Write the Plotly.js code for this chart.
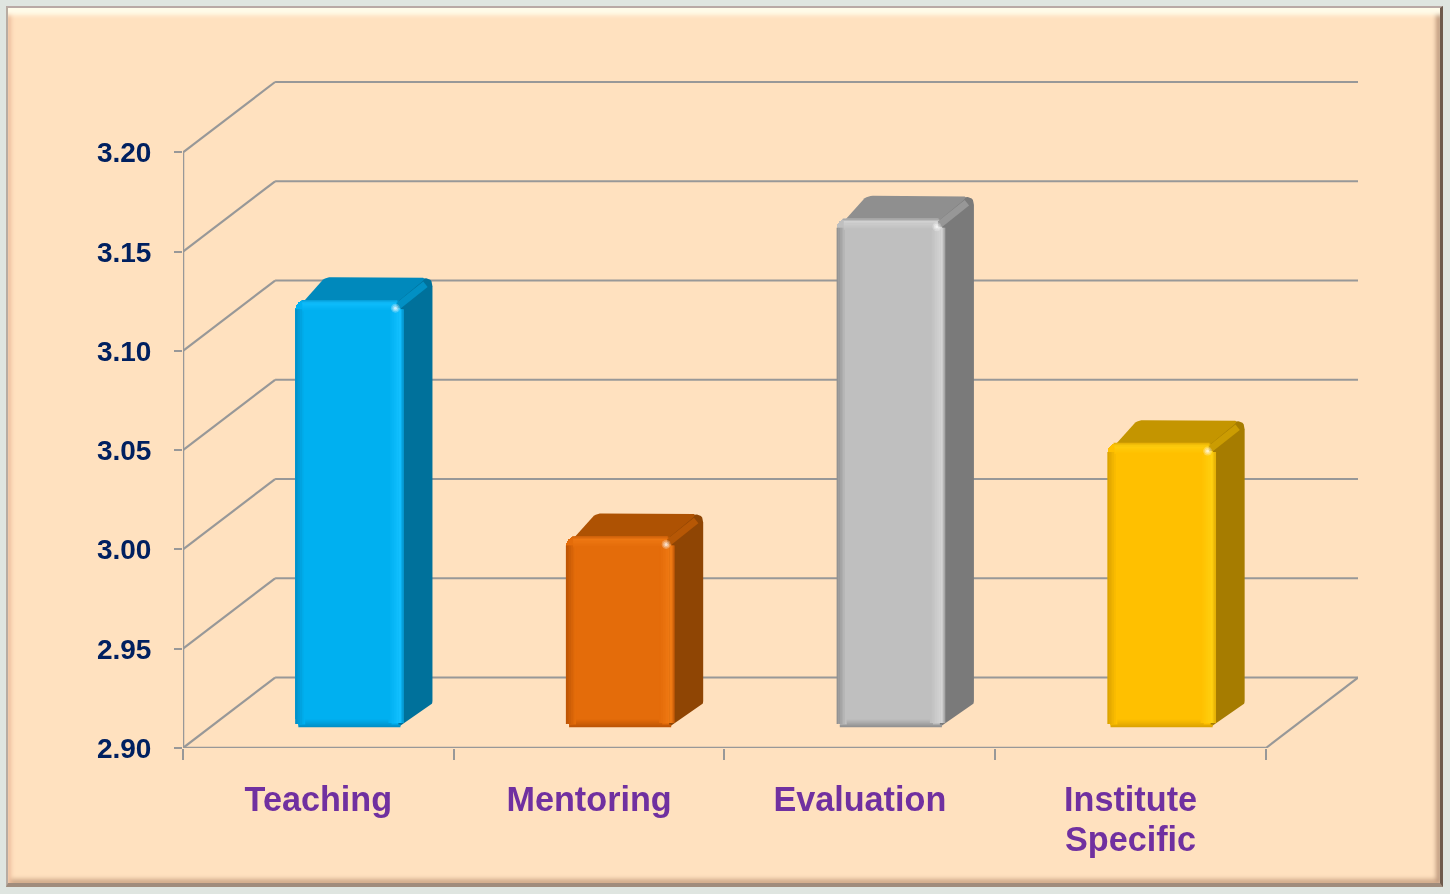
<!DOCTYPE html>
<html>
<head>
<meta charset="utf-8">
<script src="https://cdn.plot.ly/plotly-3.0.1.min.js"></script>
<style>
html,body{margin:0;padding:0;width:1450px;height:894px;overflow:hidden;background:#dfe5e0;}
#panel{position:absolute;left:6px;top:6px;width:1437px;height:881px;background:#FFE1BF;
 border-top:2px solid #b9a9a5;border-left:2px solid #b8aca2;border-right:3px solid #6e5a4c;border-bottom:4px solid #a08c7c;box-sizing:border-box;
 box-shadow:inset 0 9px 4px -2px #fffbe9, inset 4px 0 4px -1px #eebf9e, inset -5px 0 4px -1px #c09c80, inset 0 -5px 4px -1px #d0ac8c;}
#chart{position:absolute;left:0;top:0;width:1450px;height:894px;filter:blur(0.45px);}
</style>
</head>
<body>
<div id="panel"></div>
<div id="chart"></div>
<script>
// Data
var categories = ['Teaching', 'Mentoring', 'Evaluation', 'Institute'];
var secondLine = ['', '', '', 'Specific'];
var values = [3.115, 2.996, 3.156, 3.043];
var frontColors = ['#00B0F0', '#E46C0A', '#BFBFBF', '#FFC000'];
var sideColors = ['#00719B', '#8F4504', '#7A7A7A', '#A67C00'];
var topColors = ['#0089BC', '#AE5203', '#8F8F8F', '#C49500'];
var lightColors = ['#12C0FF', '#F07A14', '#D4D4D4', '#FFD010'];
var darkColors = ['#0090C8', '#BE5505', '#929292', '#DDA400'];
var yTicks = [2.90, 2.95, 3.00, 3.05, 3.10, 3.15, 3.20];
var yTickText = ['2.90', '2.95', '3.00', '3.05', '3.10', '3.15', '3.20'];

// Pseudo-3D geometry in axis units
var pxX = 270.5, pxY = 1987;
var yMin = 2.90, wallDx = 92 / pxX, wallDy = 70.5 / pxY;
var floorDy = 21 / pxY, barDx = 29 / pxX, barDy = 23 / pxY;
var barW = 108 / pxX, barShift = 31 / pxX;
var gridColor = '#989898';
var traces = [];

function mix(a, b, t) {
  var out = '#';
  for (var i = 1; i < 7; i += 2) {
    var c = Math.round(parseInt(a.substr(i, 2), 16) * (1 - t) + parseInt(b.substr(i, 2), 16) * t);
    out += (c < 16 ? '0' : '') + c.toString(16);
  }
  return out;
}
function line(xs, ys, color, width, ax) {
  return {type: 'scatter', mode: 'lines', x: xs, y: ys, xaxis: ax ? 'x2' : 'x', yaxis: ax ? 'y2' : 'y',
    line: {color: color, width: width, simplify: false}, hoverinfo: 'skip', showlegend: false, cliponaxis: false};
}
// polygon with rounded corners; radii are given per corner in pixels
function rounded(pts, radii) {
  var xs = [], ys = [], n = pts.length;
  for (var i = 0; i < n; i++) {
    var p = pts[i], a = pts[(i + n - 1) % n], b = pts[(i + 1) % n], r = radii[i];
    if (!r) { xs.push(p[0]); ys.push(p[1]); continue; }
    var ax = (a[0] - p[0]) * pxX, ay = (a[1] - p[1]) * pxY, bx = (b[0] - p[0]) * pxX, by = (b[1] - p[1]) * pxY;
    var la = Math.hypot(ax, ay), lb = Math.hypot(bx, by);
    for (var k = 0; k <= 6; k++) {
      var t = k / 6, u = 1 - t;
      var sx = u * u * (ax / la * r) + t * t * (bx / lb * r);
      var sy = u * u * (ay / la * r) + t * t * (by / lb * r);
      xs.push(p[0] + sx / pxX); ys.push(p[1] + sy / pxY);
    }
  }
  xs.push(xs[0]); ys.push(ys[0]);
  return {x: xs, y: ys};
}
function face(poly, color) {
  return {type: 'scatter', mode: 'lines', x: poly.x, y: poly.y, fill: 'toself', fillcolor: color,
    line: {width: 0, color: color}, xaxis: 'x2', yaxis: 'y2', hoverinfo: 'skip', showlegend: false};
}

// Walls and floor
yTicks.forEach(function (t) {
  traces.push(line([wallDx, 4 + wallDx], [t + wallDy, t + wallDy], gridColor, 2));
  traces.push(line([0, wallDx], [t, t + wallDy], gridColor, 2.2));
});
traces.push(line([0, 0], [yMin, yTicks[yTicks.length - 1]], gridColor, 2.5));
traces.push(line([0, 4], [yMin, yMin], gridColor, 2.5));
traces.push(line([4, 4 + wallDx], [yMin, yMin + wallDy], gridColor, 2.2));

// Bars: front faces through the library's bar trace
var barX = categories.map(function (c, i) { return i + 0.5 + barShift; });
var base = yMin + floorDy;
traces.push({type: 'bar', x: barX, y: values.map(function (v) { return v - yMin; }),
  base: values.map(function () { return base; }), width: barW, xaxis: 'x2', yaxis: 'y2',
  marker: {color: frontColors, cornerradius: 9, line: {width: 0}}, hoverinfo: 'skip', showlegend: false});

values.forEach(function (v0, i) {
  var v = v0 + floorDy, x0 = barX[i] - barW / 2, x1 = barX[i] + barW / 2;
  var e = 5 / pxX, ey = 5 / pxY, px = 1 / pxX, py = 1 / pxY, k, t;
  // side face
  traces.push(face(rounded([[x1 - e, base], [x1 + barDx, base + barDy], [x1 + barDx, v + barDy], [x1 - e, v + barDy - ey]], [0, 3, 9, 0]), sideColors[i]));
  // top face
  traces.push(face(rounded([[x0 + e, v - ey], [x0 + barDx, v + barDy], [x1 + barDx - e, v + barDy], [x1 - 2 * e, v - ey]], [7, 7, 8, 0]), topColors[i]));
  // band that wraps the corner between top and side
  traces.push(line([x1 - 1.5 * e, x1 + barDx - 1.4 * e], [v - 1.5 * ey, v + barDy - 1.4 * ey], mix(topColors[i], lightColors[i], 0.12), 7, true));
  // soft bevels of the front face, drawn as graded strips
  for (k = 0; k < 6; k++) { // left edge
    t = k / 5;
    traces.push(line([x0 + (k * 1.7 + 0.8) * px, x0 + (k * 1.7 + 0.8) * px], [base + 3 * py, v - 9 * py], mix(darkColors[i], frontColors[i], t), 2, true));
  }
  for (k = 0; k < 8; k++) { // bottom edge
    t = k / 7;
    traces.push(line([x0 + (k < 2 ? 3 : 10) * px, x1 - (k < 2 ? 3 : 12) * px], [base + (k * 1.1 + 0.6) * py, base + (k * 1.1 + 0.6) * py], mix(darkColors[i], frontColors[i], t), 1.6, true));
  }
  for (k = 0; k < 7; k++) { // right edge rising to the highlight
    t = k / 6;
    traces.push(line([x1 - (14 - k * 1.7) * px, x1 - (14 - k * 1.7) * px], [base + 4 * py, v - 8 * py], mix(frontColors[i], lightColors[i], t), 2, true));
  }
  for (k = 0; k < 3; k++) {
    traces.push(line([x1 - (2.6 - k * 1.1) * px, x1 - (2.6 - k * 1.1) * px], [base + 4 * py, v - 9 * py], mix(lightColors[i], darkColors[i], k / 3), 1.6, true));
  }
  for (k = 0; k < 7; k++) { // top edge
    t = k / 6;
    traces.push(line([x0 + 7 * px, x1 - 7 * px], [v - (10 - k * 1.5) * py, v - (10 - k * 1.5) * py], mix(frontColors[i], lightColors[i], t), 2, true));
  }
  for (k = 0; k < 2; k++) {
    traces.push(line([x0 + 6 * px, x1 - 6 * px], [v - (1.6 - k * 1.2) * py, v - (1.6 - k * 1.2) * py], mix(lightColors[i], darkColors[i], 0.35 + 0.3 * k), 1.4, true));
  }
  // specular spot at the corner
  [[9, 0.25], [6, 0.35], [3, 0.55]].forEach(function (s) {
    traces.push({type: 'scatter', mode: 'markers', x: [x1 - 8 * px], y: [v - 8 * py], xaxis: 'x2', yaxis: 'y2',
      marker: {size: s[0], color: 'rgba(255,255,255,' + s[1] + ')', line: {width: 0}}, hoverinfo: 'skip', showlegend: false});
  });
});

var xMax = 4 + wallDx, yMax = yTicks[yTicks.length - 1] + wallDy + 4 / pxY;
var fontFamily = '"Liberation Sans", Arial, sans-serif';
var layout = {
  width: 1450, height: 894,
  margin: {l: 183, r: 92, t: 77.5, b: 146, pad: 0},
  paper_bgcolor: 'rgba(0,0,0,0)', plot_bgcolor: 'rgba(0,0,0,0)',
  showlegend: false, bargap: 0,
  xaxis: {range: [0, xMax], tickvals: [0, 1, 2, 3, 4], ticktext: ['', '', '', '', ''], ticks: 'outside', ticklen: 11, tickwidth: 2,
    tickcolor: gridColor, showgrid: false, zeroline: false, showline: false, fixedrange: true},
  yaxis: {range: [yMin, yMax], tickvals: yTicks, ticktext: yTickText, ticks: 'outside', ticklen: 8, tickwidth: 2,
    tickcolor: gridColor, showgrid: false, zeroline: false, showline: false, fixedrange: true, ticklabelstandoff: 17,
    tickfont: {family: fontFamily, size: 28, color: '#002060', weight: 700}},
  xaxis2: {overlaying: 'x', range: [0, xMax], tickvals: [0.5, 1.5, 2.5, 3.5], ticktext: categories, ticks: '', showgrid: false,
    zeroline: false, showline: false, fixedrange: true, side: 'bottom', ticklabelstandoff: 28, tickangle: 0,
    tickfont: {family: fontFamily, size: 34.2, color: '#7030A0', weight: 700}},
  xaxis3: {overlaying: 'x', range: [0, xMax], tickvals: [0.5, 1.5, 2.5, 3.5], ticktext: secondLine, ticks: '', showgrid: false,
    zeroline: false, showline: false, fixedrange: true, side: 'bottom', ticklabelstandoff: 68, tickangle: 0,
    tickfont: {family: fontFamily, size: 34.2, color: '#7030A0', weight: 700}},
  yaxis2: {overlaying: 'y', range: [yMin, yMax], showticklabels: false, ticks: '', showgrid: false, zeroline: false, showline: false, fixedrange: true}
};
// the second line of the category labels needs a trace on its own axis
traces.push({type: 'scatter', mode: 'none', x: [0.5], y: [yMin], xaxis: 'x3', yaxis: 'y', hoverinfo: 'skip', showlegend: false});
Plotly.newPlot('chart', traces, layout, {displayModeBar: false, staticPlot: true});
</script>
</body>
</html>
